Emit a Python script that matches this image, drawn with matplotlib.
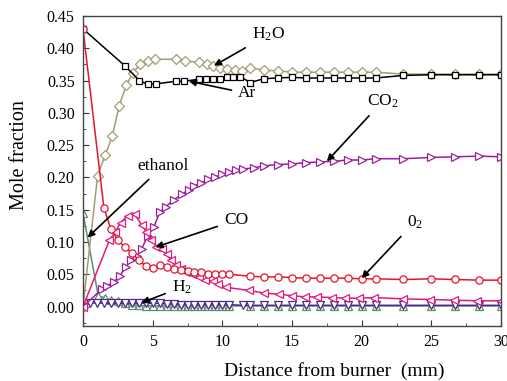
import matplotlib
matplotlib.use("Agg")
import matplotlib.pyplot as plt
from matplotlib.ticker import MultipleLocator

plt.rcParams["font.family"] = ["Liberation Serif", "DejaVu Serif"]
plt.rcParams["mathtext.fontset"] = "custom"
plt.rcParams["mathtext.rm"] = "Liberation Serif"
plt.rcParams["mathtext.it"] = "Liberation Serif:italic"

## Data (distance in mm, mole fraction)
o2_x = [0, 1.5, 2.0, 2.5, 3.0, 3.5, 4.0, 4.5, 5.0, 5.5, 6.0, 6.5, 7.0, 7.5, 8.0, 8.5,
        9.0, 9.5, 10.0, 10.5, 12, 13, 14, 15, 16, 17, 18, 19, 20, 21, 23, 25, 26.7, 28.4, 30]
o2_y = [0.430, 0.153, 0.120, 0.103, 0.092, 0.083, 0.072, 0.063, 0.060, 0.065, 0.062, 0.058,
        0.056, 0.055, 0.054, 0.053, 0.051, 0.050, 0.050, 0.050, 0.047, 0.046, 0.046, 0.045,
        0.044, 0.044, 0.044, 0.044, 0.043, 0.043, 0.042, 0.043, 0.042, 0.041, 0.041]

ar_x = [0, 3.0, 4.05, 4.65, 5.25, 6.7, 7.25, 8.3, 8.8, 9.3, 9.8, 10.3, 10.8, 11.3, 12,
        13, 14, 15, 16, 17, 18, 19, 20, 21, 23, 25, 26.7, 28.4, 30]
ar_y = [0.430, 0.373, 0.350, 0.344, 0.345, 0.349, 0.349, 0.352, 0.352, 0.352, 0.353, 0.355,
        0.355, 0.356, 0.347, 0.353, 0.354, 0.355, 0.354, 0.354, 0.354, 0.354, 0.354, 0.354,
        0.358, 0.359, 0.359, 0.359, 0.359]

h2o_x = [0, 1.05, 1.6, 2.1, 2.6, 3.1, 3.6, 4.1, 4.7, 5.2, 6.7, 7.3, 8.3, 8.9, 9.3, 9.8,
         10.3, 10.9, 11.4, 12, 13, 14, 15, 16, 17, 18, 19, 20, 21, 23, 25, 26.7, 28.4, 30]
h2o_y = [0.0, 0.203, 0.235, 0.264, 0.311, 0.343, 0.362, 0.376, 0.381, 0.383, 0.383, 0.381,
         0.378, 0.376, 0.373, 0.370, 0.368, 0.366, 0.365, 0.370, 0.366, 0.365, 0.363, 0.363,
         0.363, 0.363, 0.363, 0.363, 0.363, 0.360, 0.360, 0.360, 0.360, 0.360]

co2_x = [0, 1.35, 1.7, 2.2, 2.65, 3.1, 3.45, 3.85, 4.2, 4.65, 5.1, 5.5, 5.95, 6.5, 7.1,
         7.6, 8.0, 8.5, 9.0, 9.5, 10.0, 10.5, 11.0, 11.5, 12.3, 13, 14, 15, 16, 17, 18, 19,
         20, 21, 23, 25, 26.7, 28.4, 30]
co2_y = [0.0, 0.027, 0.032, 0.038, 0.048, 0.062, 0.072, 0.078, 0.089, 0.110, 0.124, 0.146,
         0.155, 0.165, 0.174, 0.181, 0.187, 0.192, 0.197, 0.201, 0.205, 0.208, 0.211, 0.213,
         0.215, 0.218, 0.220, 0.221, 0.223, 0.224, 0.225, 0.227, 0.227, 0.229, 0.229, 0.231,
         0.232, 0.233, 0.232]

co_x = [0, 1.9, 2.3, 2.7, 3.2, 3.7, 4.2, 4.55, 4.9, 5.25, 5.7, 6.05, 6.3, 6.65, 7.0, 7.4,
        7.85, 8.3, 8.75, 9.3, 9.7, 10.25, 11.9, 13, 14.1, 15, 15.9, 16.8, 17.9, 18.8, 19.8,
        20.9, 23, 24.9, 26.6, 28.3, 30]
co_y = [0.0, 0.103, 0.115, 0.130, 0.141, 0.143, 0.127, 0.115, 0.103, 0.093, 0.089, 0.081,
        0.072, 0.065, 0.058, 0.053, 0.050, 0.046, 0.041, 0.039, 0.035, 0.030, 0.025, 0.021,
        0.019, 0.017, 0.015, 0.015, 0.014, 0.013, 0.013, 0.014, 0.012, 0.011, 0.010, 0.009,
        0.009]

eth_x = [0, 1.1, 1.55, 2.0, 2.5, 3.0, 3.5, 4.0, 4.5, 5.0, 5.5, 6.0, 6.5, 7.0, 7.5, 8.0,
         8.5, 9.0, 9.5, 10.0, 10.5, 12, 13, 14, 15, 16, 17, 18, 19, 20, 21, 23, 25, 26.7,
         28.4, 30]
eth_y = [0.145, 0.016, 0.014, 0.010, 0.008, 0.005, 0.003, 0.002, 0.001, 0.001, 0.001, 0.001,
         0.001, 0.001, 0.001, 0.001, 0.001, 0.001, 0.001, 0.001, 0.001, 0.001, 0.001, 0.001,
         0.001, 0.001, 0.001, 0.001, 0.001, 0.001, 0.001, 0.001, 0.001, 0.001, 0.001, 0.001]

h2_x = [0, 0.5, 1.0, 1.5, 2.0, 2.5, 3.0, 3.5, 4.0, 4.5, 5.0, 5.5, 6.0, 6.5, 7.0, 7.5, 8.0,
        8.5, 9.0, 9.5, 10.0, 10.5, 11.5, 12, 13, 14, 15, 16, 17, 18, 19, 20, 21, 23, 25,
        26.7, 28.4, 30]
h2_y = [0.0, 0.005, 0.006, 0.005, 0.005, 0.005, 0.005, 0.005, 0.005, 0.005, 0.005, 0.005,
        0.004, 0.004, 0.003, 0.003, 0.003, 0.003, 0.003, 0.003, 0.003, 0.003, 0.002, 0.002,
        0.002, 0.002, 0.002, 0.002, 0.002, 0.002, 0.002, 0.002, 0.002, 0.002, 0.002, 0.002,
        0.002, 0.002]

fig = plt.figure(figsize=(5.07, 3.81), dpi=100)
ax = fig.add_axes([0.1637, 0.1444, 0.8245, 0.8136])

common = dict(lw=1.1, mfc="white", mew=0.9)
ax.plot(eth_x, eth_y, color="#5b8c6b", marker="^", ms=5.5, **common)
ax.plot(h2_x, h2_y, color="#4b2a8c", marker="v", ms=5.5, **common)
ax.plot(h2o_x, h2o_y, color="#a39d70", marker="D", ms=5, **common)
ax.plot(ar_x, ar_y, color="black", marker="s", ms=5, **common)
ax.plot(co2_x, co2_y, color="#9b1f9b", marker=">", ms=6, **common)
ax.plot(co_x, co_y, color="#e3197d", marker="<", ms=6, **common)
ax.plot(o2_x, o2_y, color="#e8142e", marker="o", ms=5.2, **common)

## Axis limits, ticks and labels
ax.set_xlim(0, 30)
ax.set_ylim(-0.03, 0.45)
ax.xaxis.set_major_locator(MultipleLocator(5))
ax.xaxis.set_minor_locator(MultipleLocator(2.5))
ax.yaxis.set_major_locator(MultipleLocator(0.05))
ax.yaxis.set_minor_locator(MultipleLocator(0.025))
ax.yaxis.set_major_formatter(plt.FormatStrFormatter("%.2f"))
ax.tick_params(which="both", direction="in", top=False, right=False, colors="#333333")
ax.tick_params(which="major", length=4, labelsize=11.5, pad=6, labelcolor="black")
ax.tick_params(which="minor", length=2.5)
for s in ax.spines.values():
    s.set_color("#444444")
    s.set_linewidth(1.0)

ax.set_xlabel("Distance from burner  (mm)", fontsize=14)
ax.xaxis.set_label_coords(0.6, -0.115)
ax.set_ylabel("Mole fraction", fontsize=14.5)
ax.yaxis.set_label_coords(-0.13, 0.55)

## Annotations with arrows
arrow = dict(arrowstyle="-|>", color="black", lw=1.2, mutation_scale=10, shrinkA=3, shrinkB=0)
fs = 12.5
ax.annotate("H$_2$O", xy=(9.4, 0.373), xytext=(13.3, 0.421), fontsize=fs,
            ha="center", va="center", arrowprops=arrow)
ax.annotate("Ar", xy=(7.6, 0.349), xytext=(11.8, 0.330), fontsize=fs,
            ha="center", va="center", arrowprops=arrow)
ax.annotate("CO$_2$", xy=(17.5, 0.225), xytext=(21.5, 0.318), fontsize=fs,
            ha="center", va="center", arrowprops=arrow)
ax.annotate("ethanol", xy=(0.33, 0.107), xytext=(5.75, 0.218), fontsize=fs,
            ha="center", va="center", arrowprops=arrow)
ax.annotate("CO", xy=(5.2, 0.092), xytext=(11.0, 0.134), fontsize=fs,
            ha="center", va="center", arrowprops=arrow)
ax.annotate("0$_2$", xy=(20.0, 0.044), xytext=(23.8, 0.131), fontsize=fs,
            ha="center", va="center", arrowprops=arrow)
ax.annotate("H$_2$", xy=(4.2, 0.006), xytext=(7.1, 0.030), fontsize=fs,
            ha="center", va="center", arrowprops=arrow)

fig.savefig("out.png", dpi=100)
